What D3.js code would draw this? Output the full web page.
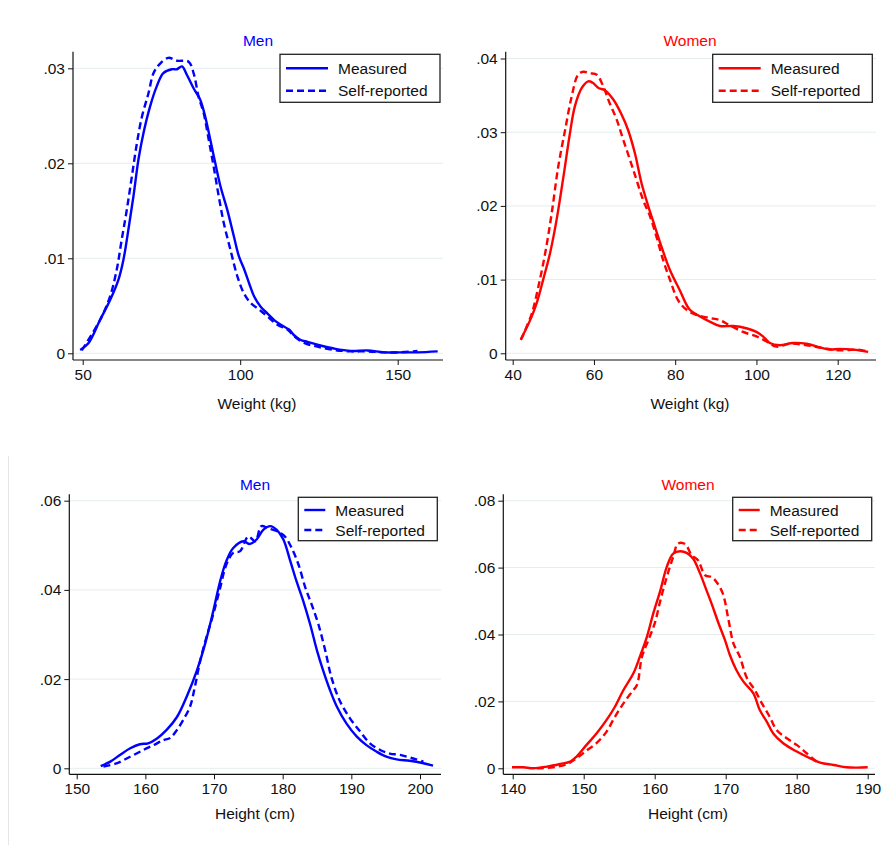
<!DOCTYPE html>
<html><head><meta charset="utf-8">
<script src="https://cdn.jsdelivr.net/npm/d3@7"></script>
<style>body{margin:0;background:#fff}svg{display:block}text{font-family:"Liberation Sans",Arial,sans-serif;fill:#111}</style>
</head><body>
<svg id="c" width="891" height="845"></svg>
<script>
// ---------- data (x, density) ----------
const menWeightMeasured = [[49.2,0.00035],[51.8,0.00105],[55.5,0.0035],[58.7,0.0056],[61.3,0.0077],[62.9,0.0098],[64.5,0.013],[66.1,0.0165],[67.7,0.0204],[69.3,0.0232],[71.4,0.026],[73.5,0.0281],[75.6,0.0295],[78.3,0.0299],[79.9,0.0299],[81.5,0.0302],[83.1,0.0293],[85.2,0.0279],[87.3,0.0267],[88.9,0.0249],[90.5,0.0225],[92.1,0.02],[93.8,0.0175],[95.9,0.0151],[98.0,0.0123],[99.6,0.0102],[101.2,0.0089],[102.8,0.0074],[104.4,0.006],[106.5,0.0049],[108.6,0.0042],[110.8,0.0035],[112.9,0.003],[115.5,0.0025],[117.1,0.0019],[119.2,0.0014],[121.4,0.0012],[124.5,0.0009],[129.8,0.0005],[135.1,0.00025],[140.4,0.0003],[145.7,0.0001],[151.0,0.0001],[156.3,0.0001],[162.7,0.0002]];
const menWeightSelf = [[49.7,0.0003],[55.5,0.0035],[58.7,0.006],[60.8,0.0088],[62.4,0.012],[64.0,0.0151],[65.6,0.0186],[67.2,0.0221],[68.8,0.0249],[70.9,0.0274],[72.5,0.0295],[74.6,0.0305],[77.2,0.0311],[79.9,0.0308],[83.6,0.0307],[85.2,0.0295],[86.8,0.027],[88.4,0.0253],[90.0,0.0225],[91.6,0.0196],[93.2,0.0165],[94.8,0.0137],[96.9,0.0109],[99.1,0.0081],[101.2,0.0063],[103.3,0.0053],[106.0,0.0046],[108.6,0.0039],[111.8,0.003],[115.0,0.0025],[117.1,0.0018],[120.3,0.0011],[124.5,0.0007],[129.8,0.00035],[135.1,0.0002],[140.4,0.0002],[145.7,0.0001],[151.0,0.0001],[156.3,0.00025]];
const womenWeightMeasured = [[42.0,0.0019],[44.3,0.0045],[45.9,0.0068],[47.5,0.01],[49.2,0.0136],[50.8,0.0181],[52.5,0.024],[54.1,0.0299],[55.3,0.0335],[57.0,0.036],[58.6,0.0369],[59.7,0.0367],[61.1,0.036],[62.7,0.0357],[64.8,0.0344],[66.8,0.0324],[68.4,0.0303],[70.1,0.0271],[71.7,0.0231],[73.4,0.0199],[75.0,0.0172],[76.6,0.0145],[78.7,0.0113],[81.1,0.0086],[83.6,0.0059],[86.1,0.005],[88.5,0.0043],[91.0,0.0037],[94.3,0.0037],[97.5,0.0034],[100.0,0.0029],[101.6,0.0023],[103.3,0.0014],[105.7,0.0011],[109.0,0.0014],[112.3,0.0013],[115.6,0.0008],[118.0,0.0005],[120.5,0.0006],[123.8,0.0005],[127.5,0.0002]];
const womenWeightSelf = [[42.0,0.0018],[44.7,0.0054],[46.3,0.009],[48.0,0.0136],[49.6,0.019],[51.2,0.0253],[52.9,0.0303],[54.5,0.0348],[56.1,0.0378],[57.4,0.0382],[59.0,0.038],[60.7,0.0378],[62.3,0.0362],[63.9,0.0339],[65.6,0.0317],[67.2,0.029],[68.9,0.0262],[70.5,0.0235],[72.1,0.0208],[73.8,0.0186],[75.4,0.0158],[77.0,0.0127],[78.7,0.01],[80.7,0.0072],[82.8,0.0059],[85.2,0.0052],[88.5,0.0048],[91.0,0.0045],[93.4,0.0038],[96.7,0.0029],[100.0,0.0023],[102.5,0.0016],[104.9,0.0009],[108.2,0.0013],[112.3,0.0011],[116.4,0.0007],[120.5,0.0004],[124.6,0.0005],[127.0,0.0003]];
const menHeightMeasured = [[153.5,0.0005],[154.9,0.0015],[156.3,0.003],[157.8,0.0045],[159.2,0.0054],[160.4,0.0056],[161.7,0.0067],[163.1,0.0086],[164.6,0.0115],[166.0,0.016],[167.5,0.0219],[168.7,0.0279],[169.9,0.0353],[170.9,0.042],[171.8,0.0465],[172.8,0.0494],[174.3,0.0509],[175.2,0.0503],[176.2,0.0513],[177.2,0.0535],[178.2,0.0543],[179.1,0.0535],[180.1,0.0513],[181.1,0.0465],[182.0,0.042],[183.0,0.0375],[184.0,0.0323],[185.0,0.0264],[185.9,0.0219],[186.9,0.0175],[187.9,0.0138],[189.3,0.01],[190.8,0.0071],[192.2,0.0052],[193.7,0.0037],[195.1,0.0026],[196.6,0.002],[198.5,0.0017],[200.0,0.0013],[201.9,0.0006]];
const menHeightSelf = [[153.9,0.0004],[155.8,0.0011],[157.8,0.0026],[159.7,0.0041],[161.2,0.0052],[162.6,0.0063],[163.6,0.0068],[164.6,0.0086],[165.5,0.0108],[166.5,0.0138],[167.2,0.0182],[168.0,0.0242],[168.9,0.0294],[169.9,0.0346],[170.9,0.0405],[171.8,0.0457],[172.8,0.0483],[173.8,0.0487],[175.0,0.052],[176.0,0.0509],[176.9,0.0543],[177.9,0.0538],[179.1,0.0532],[180.3,0.052],[181.3,0.0494],[182.3,0.0457],[183.3,0.0405],[184.2,0.0368],[185.2,0.0323],[186.2,0.0264],[187.1,0.0204],[188.3,0.0152],[189.8,0.0112],[191.3,0.0082],[192.7,0.0056],[194.2,0.0041],[195.6,0.0033],[197.1,0.003],[199.0,0.0022],[200.5,0.0015]];
const womenHeightMeasured = [[139.9,0.0003],[141.5,0.0003],[142.9,0.0],[144.8,0.0005],[146.7,0.0013],[148.1,0.002],[149.0,0.0035],[150.4,0.007],[151.8,0.0104],[153.2,0.0144],[154.4,0.0184],[155.6,0.0234],[157.0,0.0284],[157.9,0.0333],[158.9,0.0393],[159.8,0.0463],[160.8,0.0532],[161.7,0.0602],[162.6,0.0642],[163.6,0.0649],[164.5,0.0644],[165.4,0.0627],[166.4,0.0582],[167.3,0.0532],[168.0,0.0493],[169.0,0.0433],[169.9,0.0383],[170.6,0.0338],[171.5,0.0294],[172.5,0.0259],[173.9,0.0224],[174.8,0.0174],[175.8,0.0139],[176.7,0.0104],[178.1,0.0075],[180.0,0.005],[181.4,0.0035],[183.3,0.0017],[185.2,0.001],[187.0,0.0003],[188.5,0.0002],[190.0,0.0003]];
const womenHeightSelf = [[143.4,0.0],[145.7,0.0003],[147.6,0.0012],[149.0,0.003],[150.4,0.0053],[151.8,0.0075],[153.2,0.0109],[154.4,0.0154],[155.6,0.0194],[156.8,0.0229],[157.5,0.0249],[158.2,0.0333],[159.1,0.0383],[160.0,0.0433],[160.8,0.0502],[161.7,0.0572],[162.6,0.0632],[163.3,0.0672],[164.3,0.067],[165.2,0.0637],[166.1,0.0622],[167.1,0.0577],[168.0,0.0572],[168.7,0.0557],[169.6,0.0522],[170.4,0.0443],[171.1,0.0373],[172.0,0.0333],[173.0,0.0269],[174.1,0.0234],[175.1,0.0194],[176.2,0.0154],[177.2,0.0114],[178.6,0.009],[180.0,0.007],[181.4,0.0045],[182.8,0.002]];

const titles = ["Men","Women","Men","Women"];
const xLabels = ["Weight (kg)","Weight (kg)","Height (cm)","Height (cm)"];
const legendLabels = ["Measured","Self-reported"];
const xTicks = [[50,100,150],[40,60,80,100,120],[150,160,170,180,190,200],[140,150,160,170,180,190]];
const yTicks = [[0,0.01,0.02,0.03],[0,0.01,0.02,0.03,0.04],[0,0.02,0.04,0.06],[0,0.02,0.04,0.06,0.08]];
const seriesData = [[menWeightMeasured,menWeightSelf],[womenWeightMeasured,womenWeightSelf],[menHeightMeasured,menHeightSelf],[womenHeightMeasured,womenHeightSelf]];

// ---------- layout ----------
const BLUE="#0000ff", RED="#ff0000";
const layout = [
  {color:BLUE, xd:[50,150], xr:[82.7,397.7], yd:[0,0.03], yr:[353.3,68.3], L:73, R:443, T:51.7, B:360, tx:258, ty:46, lx:257, ly:409, leg:[280,54.3,160,48], legLine:42, rowY:[68.3,90.7]},
  {color:RED, xd:[40,120], xr:[512.7,837.7], yd:[0,0.04], yr:[353.3,58.5], L:505.7, R:876, T:51.7, B:360, tx:690, ty:46, lx:690, ly:409, leg:[712.7,54.3,159.6,48], legLine:42, rowY:[68.3,90.7]},
  {color:BLUE, xd:[150,200], xr:[76.7,420], yd:[0,0.06], yr:[768.3,500.7], L:69.3, R:441, T:494.3, B:774.3, tx:255, ty:490, lx:255, ly:819, leg:[298.3,497.3,139,43.4], legLine:21, rowY:[510,530]},
  {color:RED, xd:[140,190], xr:[512.7,867.7], yd:[0,0.08], yr:[768.3,500.7], L:503.3, R:875, T:494.3, B:774.3, tx:688, ty:490, lx:688, ly:819, leg:[732.7,497.3,139,43.4], legLine:21, rowY:[510,530]}
];

const svg = d3.select("#c");
// faint frame edge seen in the reference
svg.append("line").attr("x1",8.5).attr("x2",8.5).attr("y1",456).attr("y2",845).attr("stroke","#e6e6e6").attr("stroke-width",1);

const fmtY = v => v===0 ? "0" : d3.format(".2f")(v).replace(/^0/,"");

layout.forEach((p,i)=>{
  const g = svg.append("g");
  const x = d3.scaleLinear().domain(p.xd).range(p.xr);
  const y = d3.scaleLinear().domain(p.yd).range(p.yr);

  // gridlines
  g.selectAll(".grid").data(yTicks[i]).enter().append("line")
    .attr("x1",p.L).attr("x2",p.R).attr("y1",d=>y(d)).attr("y2",d=>y(d))
    .attr("stroke","#e4eeef").attr("stroke-width",1);

  // y axis
  const ya = d3.axisLeft(y).tickValues(yTicks[i]).tickFormat(fmtY).tickSize(5).tickPadding(3);
  const yg = g.append("g").attr("transform",`translate(${p.L},0)`).call(ya);
  yg.select(".domain").remove();
  yg.append("line").attr("x1",0).attr("x2",0).attr("y1",p.T).attr("y2",p.B).attr("stroke","#111").attr("stroke-width",1.2);
  yg.selectAll(".tick line").attr("stroke","#111");
  yg.selectAll(".tick text").attr("font-size",15.5).attr("fill","#111").attr("font-family","Liberation Sans, Arial, sans-serif");

  // x axis
  const xa = d3.axisBottom(x).tickValues(xTicks[i]).tickFormat(d3.format("d")).tickSize(5).tickPadding(4);
  const xg = g.append("g").attr("transform",`translate(0,${p.B})`).call(xa);
  xg.select(".domain").remove();
  xg.append("line").attr("x1",p.L).attr("x2",p.R).attr("y1",0).attr("y2",0).attr("stroke","#111").attr("stroke-width",1.2);
  xg.selectAll(".tick line").attr("stroke","#111");
  xg.selectAll(".tick text").attr("font-size",15.5).attr("fill","#111").attr("font-family","Liberation Sans, Arial, sans-serif");

  // curves
  const line = d3.line().x(d=>x(d[0])).y(d=>y(d[1])).curve(d3.curveCatmullRom.alpha(0.5));
  seriesData[i].forEach((s,k)=>{
    g.append("path").datum(s).attr("d",line).attr("fill","none")
      .attr("stroke",p.color).attr("stroke-width",2.4)
      .attr("stroke-linejoin","round")
      .attr("stroke-dasharray",k===1?"7,4":null);
  });

  // title
  g.append("text").attr("x",p.tx).attr("y",p.ty).attr("text-anchor","middle")
    .attr("font-size",15.5).style("fill",p.color).text(titles[i]);
  // axis label
  g.append("text").attr("x",p.lx).attr("y",p.ly).attr("text-anchor","middle")
    .attr("font-size",15.5).text(xLabels[i]);

  // legend
  const [lx,ly,lw,lh] = p.leg;
  const lg = g.append("g");
  lg.append("rect").attr("x",lx).attr("y",ly).attr("width",lw).attr("height",lh)
    .attr("fill","#fff").attr("stroke","#222").attr("stroke-width",1.3);
  legendLabels.forEach((lab,k)=>{
    const sx = lx+6;
    lg.append("line").attr("x1",sx).attr("x2",sx+p.legLine).attr("y1",p.rowY[k]).attr("y2",p.rowY[k])
      .attr("stroke",p.color).attr("stroke-width",2.4).attr("stroke-dasharray",k===1?"7,4":null);
    lg.append("text").attr("x",sx+p.legLine+(p.legLine>30?10:10)).attr("y",p.rowY[k]+5.5)
      .attr("font-size",15.5).text(lab);
  });
});
</script>
</body></html>
